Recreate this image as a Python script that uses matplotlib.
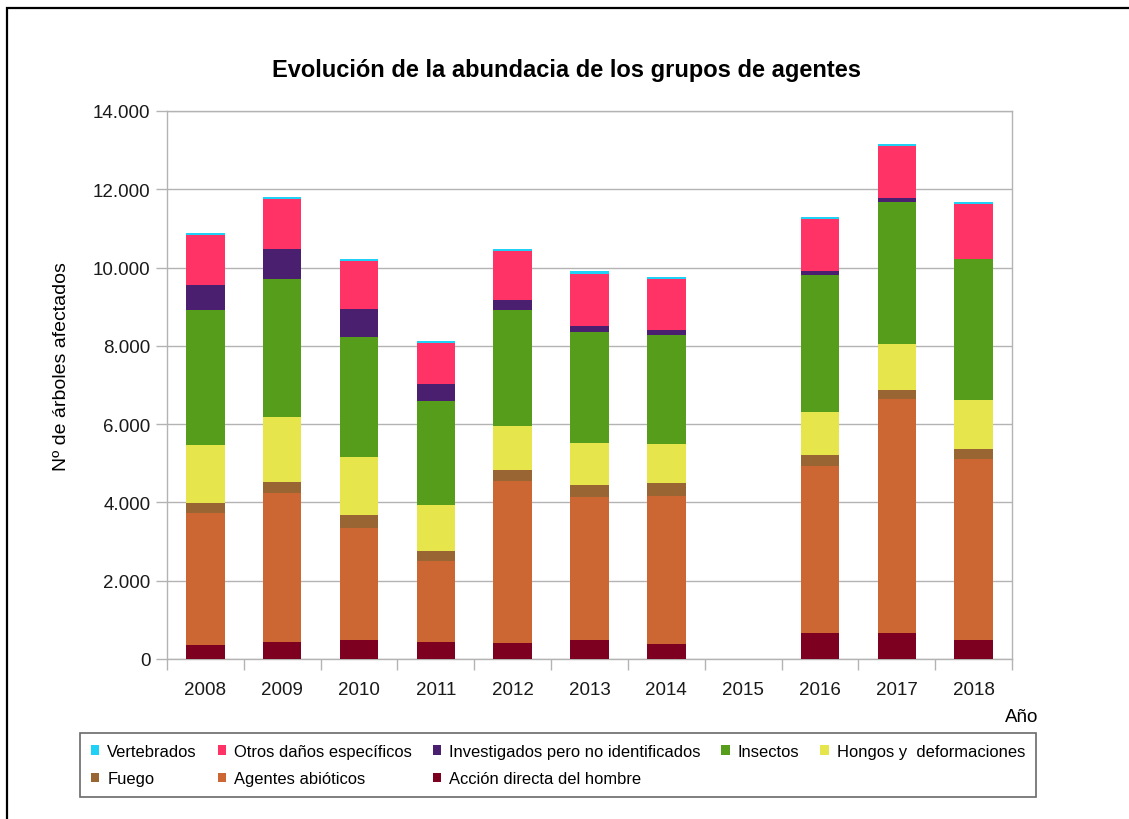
import matplotlib
matplotlib.use('Agg')
import matplotlib.pyplot as plt
import numpy as np
from matplotlib.patches import Rectangle
from matplotlib.ticker import FuncFormatter, FixedLocator

plt.rcParams['font.family'] = ['Liberation Sans', 'DejaVu Sans']

years = ['2008', '2009', '2010', '2011', '2012', '2013', '2014', '2015', '2016', '2017', '2018']

# series, stacked from the bottom up
accion = [360, 440, 480, 425, 400, 480, 390, 0, 670, 670, 475]
agentes = [3370, 3790, 2870, 2090, 4140, 3670, 3780, 0, 4265, 5985, 4635]
fuego = [255, 290, 320, 255, 290, 305, 325, 0, 265, 225, 250]
hongos = [1490, 1650, 1480, 1170, 1125, 1065, 1005, 0, 1110, 1155, 1250]
insectos = [3430, 3540, 3070, 2640, 2965, 2830, 2775, 0, 3510, 3635, 3615]
investigados = [650, 760, 715, 435, 255, 170, 130, 0, 105, 95, 0]
otros = [1270, 1280, 1245, 1065, 1245, 1310, 1300, 0, 1310, 1340, 1400]
vertebrados = [60, 60, 50, 45, 50, 85, 60, 0, 45, 50, 55]

series = [
    ('Acción directa del hombre', accion, '#7e0021'),
    ('Agentes abióticos', agentes, '#cc6633'),
    ('Fuego', fuego, '#996633'),
    ('Hongos y  deformaciones', hongos, '#e6e64c'),
    ('Insectos', insectos, '#579d1c'),
    ('Investigados pero no identificados', investigados, '#4b1f6f'),
    ('Otros daños específicos', otros, '#ff3366'),
    ('Vertebrados', vertebrados, '#1fd1f4'),
]

fig = plt.figure(figsize=(11.29, 8.2), dpi=100)
ax = fig.add_axes([167/1129, 1-660/820, (1012-167)/1129, (660-112)/820])

x = np.arange(len(years))
bottom = np.zeros(len(years))
handles = {}
for name, vals, col in series:
    b = ax.bar(x, vals, 0.5, bottom=bottom, color=col, label=name, zorder=3)
    handles[name] = b
    bottom += np.array(vals)

grey = '#b3b3b3'
ax.set_xlim(-0.5, len(years) - 0.5)
ax.set_ylim(0, 14000)
ax.set_yticks(np.arange(0, 14001, 2000))
ax.yaxis.set_major_formatter(FuncFormatter(lambda v, p: '{:,.0f}'.format(v).replace(',', '.')))
ax.set_xticks(x)
ax.set_xticklabels(years)
ax.xaxis.set_minor_locator(FixedLocator(np.arange(-0.5, len(years), 1)))
ax.tick_params(axis='x', which='major', length=0, pad=16, labelsize=13.5, colors='#1a1a1a')
ax.tick_params(axis='x', which='minor', length=8, color=grey, width=1)
ax.tick_params(axis='y', length=8, color=grey, width=1, labelsize=13.5, pad=4, labelcolor='#1a1a1a')
ax.grid(axis='y', color=grey, linewidth=1, zorder=0)
for s in ax.spines.values():
    s.set_color(grey)
    s.set_linewidth(1)

ax.set_ylabel('Nº de árboles afectados', fontsize=14, labelpad=8)
ax.yaxis.set_label_coords(-0.115, 0.536)
fig.text(1038/1129, 1-718/820, 'Año', ha='right', va='center', fontsize=13.5)
fig.text(567/1129, 1-70/820, 'Evolución de la abundacia de los grupos de agentes',
         ha='center', va='center', fontsize=17, fontweight='bold')

order = ['Vertebrados', 'Fuego', 'Otros daños específicos', 'Agentes abióticos',
         'Investigados pero no identificados', 'Acción directa del hombre',
         'Insectos', 'Hongos y  deformaciones']
leg = fig.legend([handles[n] for n in order], order, ncol=5,
                 loc='upper center', bbox_to_anchor=(558/1129, 1-734/820),
                 fontsize=11.9, frameon=True, fancybox=False, edgecolor='#444444',
                 handlelength=0.5, handleheight=0.5, handletextpad=0.5,
                 columnspacing=1.25, borderpad=0.65, labelspacing=0.75, borderaxespad=0)
leg.get_frame().set_linewidth(1.2)

fig.patches.append(Rectangle((7/1129, -0.1), 1.2, 1.1 - 9/820, transform=fig.transFigure,
                             fill=False, edgecolor='black', linewidth=1.6))

fig.savefig('out.png', dpi=100)
